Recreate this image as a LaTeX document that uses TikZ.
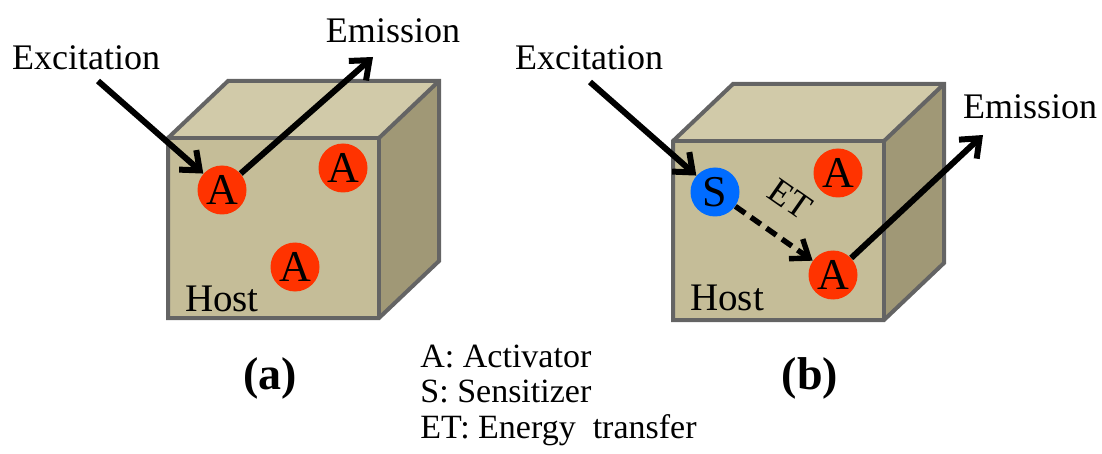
\documentclass[tikz,border=0pt]{standalone}
\usepackage{fontspec}
\setmainfont{Liberation Serif}
\usetikzlibrary{arrows.meta}
\definecolor{frontc}{RGB}{197,189,152}
\definecolor{topc}{RGB}{209,202,169}
\definecolor{sidec}{RGB}{160,152,118}
\definecolor{edgec}{RGB}{100,100,100}
\definecolor{redc}{RGB}{255,51,0}
\definecolor{bluec}{RGB}{0,108,255}
\tikzset{
  face/.style={draw=edgec, line width=2pt, line join=miter},
  atom/.style={circle, minimum size=24.5pt, inner sep=0pt, font=\fontsize{22}{22}\selectfont},
  actc/.style={atom, fill=redc},
  senc/.style={atom, fill=bluec},
  lbl/.style={font=\fontsize{18}{20}\selectfont, inner sep=0pt},
  hostlbl/.style={font=\fontsize{19.5}{20}\selectfont, inner sep=0pt},
  leg/.style={font=\fontsize{17}{18}\selectfont, inner sep=0pt, anchor=base west},
  sublbl/.style={font=\fontsize{23}{24}\selectfont\bfseries, inner sep=0pt},
  arr/.style={line width=3pt, -{Straight Barb[length=8pt, width=13pt, line width=3pt]}},
  dasharr/.style={line width=2.7pt, dash pattern=on 6pt off 3.5pt, -{Straight Barb[length=8pt, width=12pt, line width=2.7pt]}}
}
\newcommand{\hostcube}[4]{%
  \fill[topc] (#1,#2) -- ++(60,-57) -- ++(#3,0) -- ++(-60,57) -- cycle;
  \fill[sidec] (#1+#3,#2) -- ++(60,-57) -- ++(0,#4) -- ++(-60,57) -- cycle;
  \fill[frontc] (#1,#2) rectangle ++(#3,#4);
  \draw[face] (#1,#2) -- ++(60,-57) -- ++(#3,0) -- ++(0,#4) -- ++(-60,57) -- ++(-#3,0) -- cycle;
  \draw[face] (#1,#2) -- ++(#3,0) -- ++(0,#4);
  \draw[face] (#1+#3,#2) -- ++(60,-57);
}
\begin{document}
\begin{tikzpicture}[x=0.5pt,y=-0.5pt]
\useasboundingbox (0,0) rectangle (1102,454);
% ---------- (a) ----------
\hostcube{168}{138}{211}{180}
\node[actc] (a1) at (222,190) {A};
\node[actc] (a2) at (343,168) {A};
\node[actc] (a3) at (295,267) {A};
\node[hostlbl] (ha) at (222,299) {Host};
\node[lbl] (exa) at (86,58) {Excitation};
\node[lbl] (ema) at (393,31) {Emission};
\coordinate (exas) at (98,81);
\coordinate (emae) at (373,57);
\draw[arr] (exas) -- (a1);
\draw[arr] (a1) -- (emae);
\node[sublbl] (la) at (270,378) {(a)};
% ---------- (b) ----------
\hostcube{673}{141}{211}{179}
\node[senc] (s1) at (715,192) {S};
\node[actc] (b2) at (838,173) {A};
\node[actc] (b3) at (833,275) {A};
\node[hostlbl] (hb) at (727,298) {Host};
\node[lbl] (exb) at (589,58) {Excitation};
\node[lbl] (emb) at (1030,107) {Emission};
\coordinate (exbs) at (590,82);
\coordinate (embe) at (983,135);
\draw[arr] (exbs) -- (s1);
\draw[arr] (b3) -- (embe);
\draw[dasharr] (s1) -- (b3);
\node[lbl, rotate=-35] (et) at (790,199) {ET};
\node[sublbl] (lb) at (810,378) {(b)};
% ---------- legend ----------
\node[leg] (l1) at (420,367) {A: Activator};
\node[leg] (l2) at (420,402) {S: Sensitizer};
\node[leg] (l3) at (420,438) {ET: Energy\hspace{0.5em}transfer};
\end{tikzpicture}
\end{document}
